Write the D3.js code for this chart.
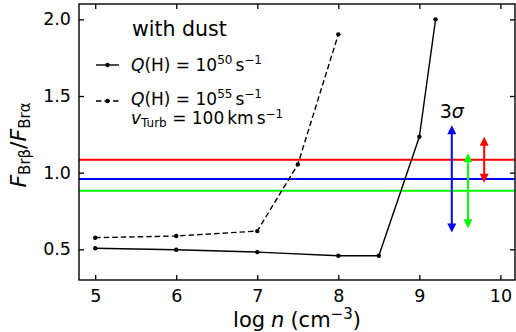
<!DOCTYPE html>
<html>
<head>
<meta charset="utf-8">
<script src="https://cdn.jsdelivr.net/npm/d3@7"></script>
<style>
  body { margin: 0; background: #fff; }
  text { font-family: "DejaVu Sans", sans-serif; fill: #000; }
</style>
</head>
<body>
<div id="chart"></div>
<script>
// values
var logN1 = [5, 6, 7, 8, 8.5, 9, 9.2];
var ratio1 = [0.507, 0.497, 0.482, 0.458, 0.458, 1.234, 2.0];
var logN2 = [5, 6, 7, 7.5, 8];
var ratio2 = [0.576, 0.587, 0.619, 1.054, 1.902];
var levels = [1.084, 0.959, 0.882];          // red, blue, green
var levelColors = ["#ff0000", "#0000ff", "#00ff00"];
var arrowX = [9.8, 9.4, 9.6];
var arrowErr = [0.15, 0.35, 0.245];
var xTicks = [5, 6, 7, 8, 9, 10];
var yTicks = [0.5, 1.0, 1.5, 2.0];

var svg = d3.select("#chart").append("svg").attr("width", 516).attr("height", 332),
    margin = {top: 4, right: 1, bottom: 52, left: 79},
    width = +svg.attr("width") - margin.left - margin.right,
    height = +svg.attr("height") - margin.top - margin.bottom,
    g = svg.append("g").attr("transform", "translate(" + margin.left + "," + margin.top + ")");

var x = d3.scaleLinear().domain([4.8, 10.18]).range([0, width]);
var y = d3.scaleLinear().domain([0.3, 2.1]).range([height, 0]);

// horizontal levels
g.selectAll(".level").data(levels).enter().append("line")
    .attr("x1", 0).attr("x2", width)
    .attr("y1", function(d) { return y(d); })
    .attr("y2", function(d) { return y(d); })
    .attr("stroke", function(d, i) { return levelColors[i]; })
    .attr("stroke-width", 2);

// model curves
var line = d3.line().x(function(d) { return x(d[0]); }).y(function(d) { return y(d[1]); });
var s1 = logN1.map(function(v, i) { return [v, ratio1[i]]; });
var s2 = logN2.map(function(v, i) { return [v, ratio2[i]]; });

g.append("path").attr("d", line(s1)).attr("fill", "none").attr("stroke", "#000").attr("stroke-width", 1.4);
g.append("path").attr("d", line(s2)).attr("fill", "none").attr("stroke", "#000").attr("stroke-width", 1.4)
    .attr("stroke-dasharray", "5.5,3");
g.selectAll(".p1").data(s1).enter().append("circle")
    .attr("cx", function(d) { return x(d[0]); }).attr("cy", function(d) { return y(d[1]); })
    .attr("r", 2.2).attr("fill", "#000");
g.selectAll(".p2").data(s2).enter().append("circle")
    .attr("cx", function(d) { return x(d[0]); }).attr("cy", function(d) { return y(d[1]); })
    .attr("r", 2.2).attr("fill", "#000");

// 3 sigma double arrows
var hw = 4.5, hl = 9;
levels.forEach(function(c, i) {
  var ax = x(arrowX[i]), top = y(c + arrowErr[i]), bot = y(c - arrowErr[i]);
  var col = levelColors[i];
  g.append("line").attr("x1", ax).attr("x2", ax).attr("y1", top + hl - 1).attr("y2", bot - hl + 1)
      .attr("stroke", col).attr("stroke-width", 2);
  g.append("path").attr("d", "M" + ax + "," + top + "L" + (ax - hw) + "," + (top + hl) + "L" + (ax + hw) + "," + (top + hl) + "Z")
      .attr("fill", col);
  g.append("path").attr("d", "M" + ax + "," + bot + "L" + (ax - hw) + "," + (bot - hl) + "L" + (ax + hw) + "," + (bot - hl) + "Z")
      .attr("fill", col);
});

g.append("text").attr("x", x(9.4)).attr("y", y(1.31) - 7).attr("text-anchor", "middle")
    .attr("font-size", 19)
    .html('3<tspan font-style="italic">σ</tspan>');

// axes with inward ticks on all sides
var tl = 5;
var ax1 = g.append("g").attr("transform", "translate(0," + height + ")")
    .call(d3.axisBottom(x).tickValues(xTicks).tickFormat(d3.format("d")).tickSizeInner(-tl).tickSizeOuter(0).tickPadding(10));
var ax2 = g.append("g")
    .call(d3.axisLeft(y).tickValues(yTicks).tickFormat(d3.format(".1f")).tickSizeInner(-tl).tickSizeOuter(0).tickPadding(8));
var ax3 = g.append("g")
    .call(d3.axisTop(x).tickValues(xTicks).tickFormat("").tickSizeInner(-tl).tickSizeOuter(0));
var ax4 = g.append("g").attr("transform", "translate(" + width + ",0)")
    .call(d3.axisRight(y).tickValues(yTicks).tickFormat("").tickSizeInner(-tl).tickSizeOuter(0));
[ax1, ax2, ax3, ax4].forEach(function(a) {
  a.select(".domain").remove();
  a.selectAll("line").attr("stroke", "#000").attr("stroke-width", 1.3);
  a.selectAll("text").attr("font-size", 17.5).attr("font-family", "DejaVu Sans").attr("fill", "#000");
});
g.append("rect").attr("width", width).attr("height", height)
    .attr("fill", "none").attr("stroke", "#000").attr("stroke-width", 1.4);

// axis labels
svg.append("text").attr("x", margin.left + width / 2).attr("y", 327).attr("text-anchor", "middle")
    .attr("font-size", 21)
    .html('log<tspan font-style="italic" dx="6">n</tspan><tspan dx="6">(cm</tspan><tspan dy="-8" font-size="15">−3</tspan><tspan dy="8">)</tspan>');
svg.append("text").attr("transform", "translate(26," + (margin.top + height / 2 + 3) + ") rotate(-90)")
    .attr("text-anchor", "middle").attr("font-size", 22)
    .html('<tspan font-style="italic">F</tspan><tspan dy="4" font-size="15">Brβ</tspan><tspan dy="-4">/</tspan><tspan font-style="italic">F</tspan><tspan dy="4" font-size="15">Brα</tspan>');

// legend
svg.append("text").attr("x", 132).attr("y", 36).attr("font-size", 20.5).text("with dust");
var lg = svg.append("g");
lg.append("line").attr("x1", 96).attr("x2", 119).attr("y1", 65).attr("y2", 65)
    .attr("stroke", "#000").attr("stroke-width", 1.4);
lg.append("circle").attr("cx", 107.5).attr("cy", 65).attr("r", 2.2);
lg.append("line").attr("x1", 96).attr("x2", 119).attr("y1", 101).attr("y2", 101)
    .attr("stroke", "#000").attr("stroke-width", 1.4).attr("stroke-dasharray", "5.5,3");
lg.append("circle").attr("cx", 107.5).attr("cy", 101).attr("r", 2.2);
lg.append("text").attr("x", 131).attr("y", 71).attr("font-size", 17)
    .html('<tspan font-style="italic">Q</tspan>(H) = 10<tspan dy="-7" font-size="12">50</tspan><tspan dy="7" dx="3">s</tspan><tspan dy="-7" font-size="12">−1</tspan>');
lg.append("text").attr("x", 131).attr("y", 105).attr("font-size", 17)
    .html('<tspan font-style="italic">Q</tspan>(H) = 10<tspan dy="-7" font-size="12">55</tspan><tspan dy="7" dx="3">s</tspan><tspan dy="-7" font-size="12">−1</tspan>');
lg.append("text").attr("x", 131).attr("y", 124).attr("font-size", 17)
    .html('<tspan font-style="italic">v</tspan><tspan dy="3" font-size="12">Turb</tspan><tspan dy="-3"> = 100</tspan><tspan dx="3">km</tspan><tspan dx="3">s</tspan><tspan dy="-6" font-size="12">−1</tspan>');
</script>
</body>
</html>
